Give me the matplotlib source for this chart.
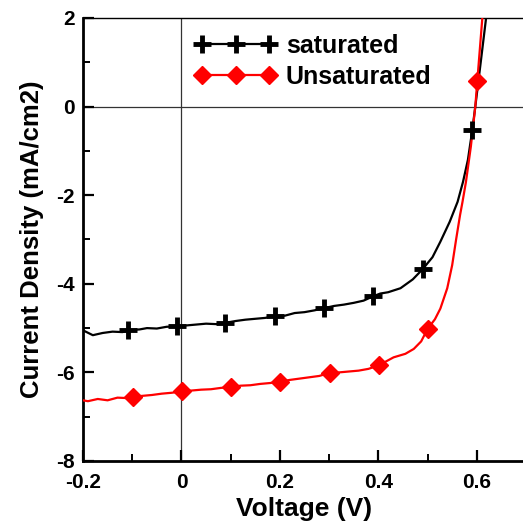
import matplotlib
matplotlib.use("Agg")
import matplotlib.pyplot as plt
from matplotlib.ticker import MultipleLocator
from matplotlib.lines import Line2D

plt.rcParams['font.family'] = ['Liberation Sans', 'DejaVu Sans']
plt.rcParams['font.weight'] = 'bold'

# Saturated: continuous curve
sat_v = [-0.200, -0.180, -0.160, -0.140, -0.120, -0.100, -0.085, -0.070, -0.050, -0.030,
         -0.010, 0.010, 0.030, 0.050, 0.070, 0.090, 0.110, 0.130, 0.150, 0.170,
         0.190, 0.210, 0.230, 0.250, 0.270, 0.290, 0.310, 0.330, 0.350, 0.370,
         0.390, 0.404, 0.420, 0.445, 0.470, 0.490, 0.510, 0.526, 0.545, 0.561,
         0.572, 0.582, 0.591, 0.597, 0.608, 0.620]
sat_j = [-5.05, -5.16, -5.11, -5.08, -5.09, -5.04, -5.03, -5.00, -5.01, -4.97,
         -4.96, -4.94, -4.92, -4.90, -4.91, -4.88, -4.84, -4.81, -4.79, -4.77,
         -4.73, -4.72, -4.66, -4.64, -4.60, -4.55, -4.50, -4.47, -4.43, -4.38,
         -4.28, -4.22, -4.19, -4.10, -3.90, -3.67, -3.40, -3.05, -2.60, -2.15,
         -1.70, -1.20, -0.52, 0.00, 1.00, 2.10]
# Saturated: markers
sat_mv = [-0.109, -0.010, 0.089, 0.190, 0.290, 0.389, 0.490, 0.591]
sat_mj = [-5.05, -4.96, -4.88, -4.73, -4.55, -4.28, -3.67, -0.52]

# Unsaturated: continuous curve
uns_v = [-0.200, -0.190, -0.170, -0.150, -0.130, -0.110, -0.099, -0.080, -0.060, -0.040,
         -0.020, 0.001, 0.020, 0.040, 0.060, 0.080, 0.101, 0.120, 0.140, 0.160,
         0.180, 0.200, 0.220, 0.240, 0.260, 0.280, 0.301, 0.320, 0.340, 0.360,
         0.380, 0.401, 0.431, 0.455, 0.472, 0.487, 0.500, 0.515, 0.526, 0.540,
         0.550, 0.558, 0.566, 0.571, 0.578, 0.588, 0.597, 0.601, 0.612]
uns_j = [-6.63, -6.65, -6.60, -6.63, -6.57, -6.58, -6.55, -6.53, -6.51, -6.48,
         -6.46, -6.43, -6.41, -6.39, -6.38, -6.35, -6.33, -6.30, -6.29, -6.26,
         -6.24, -6.21, -6.17, -6.14, -6.11, -6.08, -6.01, -6.00, -5.98, -5.96,
         -5.92, -5.84, -5.66, -5.58, -5.47, -5.30, -5.02, -4.80, -4.56, -4.10,
         -3.58, -3.00, -2.45, -2.15, -1.70, -0.90, 0.00, 0.57, 2.10]
uns_mv = [-0.099, 0.001, 0.101, 0.200, 0.301, 0.401, 0.500, 0.601]
uns_mj = [-6.55, -6.43, -6.33, -6.21, -6.01, -5.84, -5.02, 0.57]

xticks = [-0.2, 0, 0.2, 0.4, 0.6]
xticklabels = ['-0.2', '0', '0.2', '0.4', '0.6']
yticks = [-8, -6, -4, -2, 0, 2]
yticklabels = ['-8', '-6', '-4', '-2', '0', '2']

W, H = 523, 524
fig = plt.figure(figsize=(W / 100, H / 100), dpi=100)
ax = fig.add_axes([83 / W, 1 - 461 / H, (526 - 83) / W, (461 - 18) / H])

ax.axhline(0, color='#333333', lw=0.9, zorder=1)
ax.axvline(0, color='#333333', lw=0.9, zorder=1)

ax.plot(sat_v, sat_j, color='black', lw=1.6, zorder=3)
ax.plot(sat_mv, sat_mj, linestyle='none', marker='+', ms=13, mew=3.5, color='black', zorder=4)
ax.plot(uns_v, uns_j, color='#ff0000', lw=1.6, zorder=3)
ax.plot(uns_mv, uns_mj, linestyle='none', marker='D', ms=9, color='#ff0000', zorder=4)

h1 = Line2D([], [], color='black', lw=1.6, marker='+', ms=13, mew=3.5)
h2 = Line2D([], [], color='#ff0000', lw=1.6, marker='D', ms=9)
leg = ax.legend([h1, h2], ['saturated', 'Unsaturated'], loc='upper left',
                bbox_to_anchor=(0.212, 1.004), frameon=False, numpoints=3,
                handlelength=3.3, handletextpad=0.35, labelspacing=0.28,
                borderaxespad=0.3,
                prop={'size': 18, 'weight': 'bold'})

ax.set_xlim(-0.2, 0.7)
ax.set_ylim(-8, 2)
ax.set_xticks(xticks)
ax.set_xticklabels(xticklabels)
ax.set_yticks(yticks)
ax.set_yticklabels(yticklabels)
ax.xaxis.set_minor_locator(MultipleLocator(0.1))
ax.yaxis.set_minor_locator(MultipleLocator(1))
ax.tick_params(which='major', direction='in', length=8, width=1.6, labelsize=15)
ax.tick_params(axis='x', which='major', pad=9)
ax.tick_params(axis='y', which='major', pad=6)
ax.tick_params(which='minor', direction='in', length=5, width=1.4)
ax.tick_params(top=False, right=False)

ax.spines['left'].set_linewidth(2)
ax.spines['bottom'].set_linewidth(2)
ax.spines['top'].set_linewidth(1)
ax.spines['right'].set_linewidth(1)

ax.set_xlabel('Voltage (V)', fontsize=19, fontweight='bold', labelpad=3)
ax.set_ylabel('Current Density (mA/cm2)', fontsize=18.5, fontweight='bold', labelpad=9)

fig.savefig('out.png', dpi=100)
